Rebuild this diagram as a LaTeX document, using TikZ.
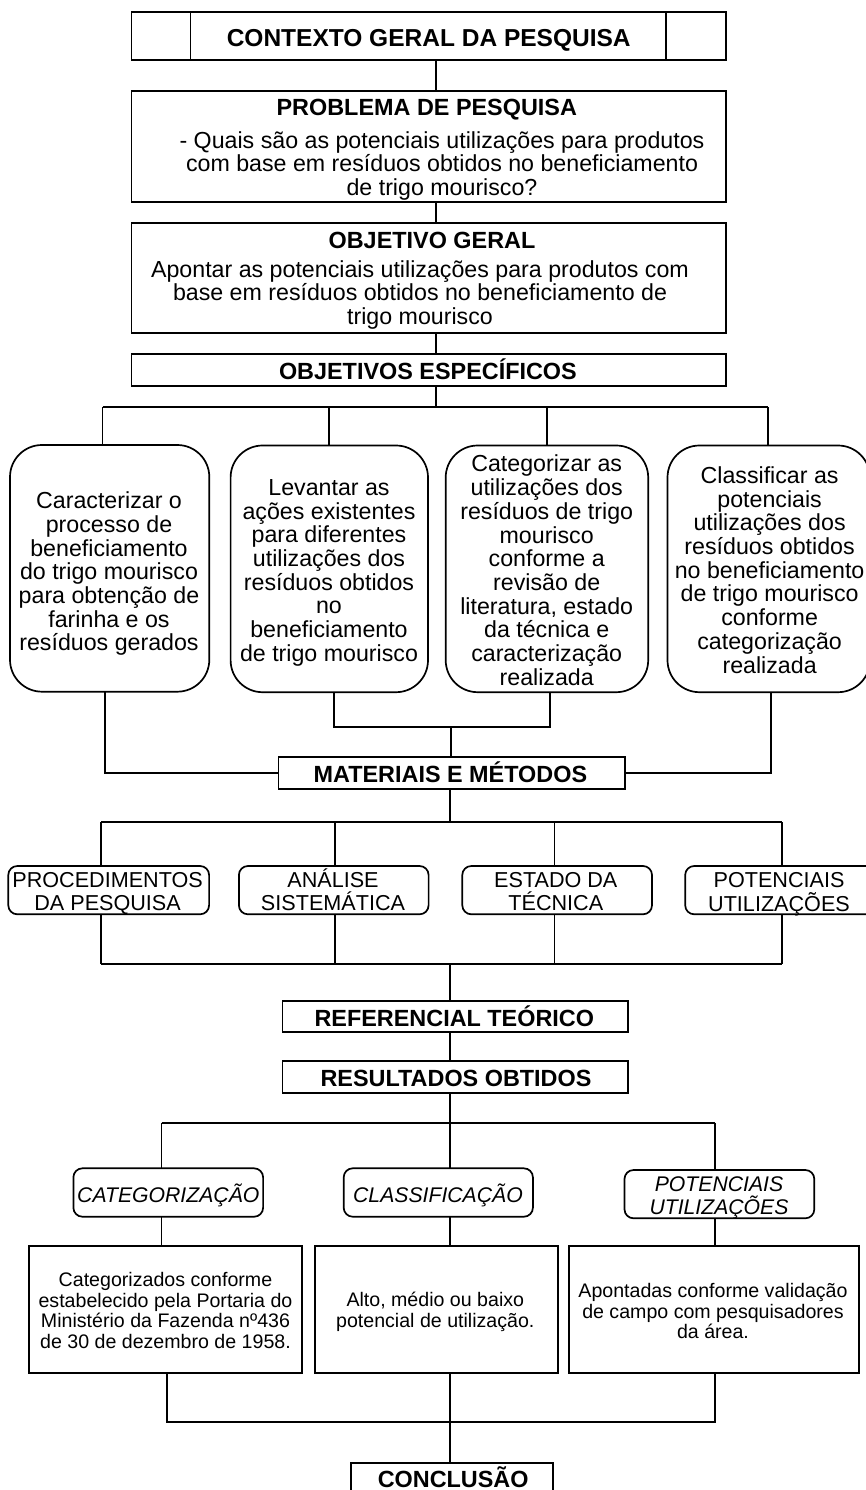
\documentclass[tikz,border=0pt]{standalone}
\usepackage{fontspec}
\setmainfont{Liberation Sans}
\begin{document}
\begin{tikzpicture}[x=1pt,y=-1pt,line width=1.7pt]
\tikzset{
  bx/.style={draw,line width=1.7pt,inner sep=0pt,outer sep=0pt},
  rbx/.style={bx,rounded corners=32pt},
  sbx/.style={bx,rounded corners=9pt},
  capht/.style={text height=#1,text depth=0pt},
  tt/.style={inner sep=0pt,align=center,capht=16.8pt,font=\fontsize{23.4}{24}\selectfont\bfseries},
  bt/.style={inner sep=0pt,align=center,font=\fontsize{23.2}{23.7}\selectfont},
  st/.style={inner sep=0pt,align=center,font=\fontsize{21.6}{23.3}\selectfont},
  itx/.style={inner sep=0pt,align=center,font=\fontsize{21.2}{22.7}\selectfont\itshape},
  qt/.style={inner sep=0pt,align=center,font=\fontsize{19.6}{20.5}\selectfont}
}
\useasboundingbox (0,0) rectangle (865,1490);
\fill[white] (0,0) rectangle (865,1490);

% x and y guide coordinates
\coordinate (sp) at (436,0);
\coordinate (d1) at (102.6,0); \coordinate (d2) at (329.3,0);
\coordinate (d3) at (547.2,0); \coordinate (d4) at (768,0);
\coordinate (u1) at (104.9,0); \coordinate (u2) at (333.8,0);
\coordinate (u3) at (550,0);   \coordinate (u4) at (771.3,0);
\coordinate (m)  at (451.3,0); \coordinate (m2) at (450,0);
\coordinate (e1) at (101,0);   \coordinate (e2) at (334.9,0);
\coordinate (e3) at (554.4,0); \coordinate (e4) at (781.7,0);
\coordinate (c1) at (161.6,0); \coordinate (c3) at (715,0);
\coordinate (k1) at (167.2,0);
\coordinate (b1) at (0,407.3); \coordinate (b2) at (0,727.3);
\coordinate (b3) at (0,822.3); \coordinate (b4) at (0,964);
\coordinate (b5) at (0,1122.7); \coordinate (b6) at (0,1421.7);

% boxes
\node[bx,minimum width=594.2pt,minimum height=47.7pt] (ctx) at (428.7,36.15) {};
\draw ([xshift=58.9pt]ctx.north west) -- ([xshift=58.9pt]ctx.south west);
\draw ([xshift=-59.7pt]ctx.north east) -- ([xshift=-59.7pt]ctx.south east);
\node[bx,minimum width=594.2pt,minimum height=111pt] (prob) at (428.7,146.5) {};
\node[bx,minimum width=594.2pt,minimum height=110.6pt] (obj) at (428.7,278) {};
\node[bx,minimum width=594.2pt,minimum height=31.7pt] (esp) at (428.7,369.85) {};

\node[rbx,minimum width=199.3pt,minimum height=246.7pt] (r1) at (109.65,568.35) {};
\node[rbx,minimum width=197.4pt,minimum height=246.7pt] (r2) at (329.3,568.85) {};
\node[rbx,minimum width=202.5pt,minimum height=246.7pt] (r3) at (546.95,568.85) {};
\node[rbx,minimum width=202.5pt,minimum height=246.7pt] (r4) at (768.75,568.85) {};

\node[bx,minimum width=346.4pt,minimum height=32.6pt] (mem) at (451.8,773) {};

\node[sbx,minimum width=200.8pt,minimum height=48.3pt] (sa) at (108.7,890.15) {};
\node[sbx,minimum width=189.7pt,minimum height=48.3pt] (sb) at (333.75,890.15) {};
\node[sbx,minimum width=189.7pt,minimum height=48.3pt] (sc) at (557.15,890.15) {};
\node[sbx,minimum width=192.8pt,minimum height=48.3pt] (sd) at (781.6,890.15) {};

\node[bx,minimum width=345.3pt,minimum height=31.6pt] (ref) at (455.15,1016.5) {};
\node[bx,minimum width=345.3pt,minimum height=32pt] (res) at (455.15,1076.7) {};

\node[sbx,minimum width=189.7pt,minimum height=48.4pt] (ic1) at (168.25,1192.5) {};
\node[sbx,minimum width=189.2pt,minimum height=48.4pt] (ic2) at (438.3,1192.5) {};
\node[sbx,minimum width=189.8pt,minimum height=48.3pt] (ic3) at (719.4,1194.15) {};

\node[bx,minimum width=273.6pt,minimum height=127pt] (q1) at (165.5,1309.2) {};
\node[bx,minimum width=242.7pt,minimum height=127pt] (q2) at (436.35,1309.2) {};
\node[bx,minimum width=290.2pt,minimum height=127pt] (q3) at (713.9,1309.2) {};

\node[bx,minimum width=202.4pt,minimum height=34.4pt] (conc) at (452.1,1480.5) {};

% texts
\node[tt,capht=17.5pt,font=\fontsize{24.5}{25}\selectfont\bfseries] (ctxT) at (428.7,37.3) {CONTEXTO GERAL DA PESQUISA};
\node[tt] (probT) at (426.8,107.5) {PROBLEMA DE PESQUISA};
\node[bt] (probB) at (442,166) {- Quais são as potenciais utilizações para produtos\\com base em resíduos obtidos no beneficiamento\\de trigo mourisco?};
\node[tt] (objT) at (432,240) {OBJETIVO GERAL};
\node[bt] (objB) at (420,294.8) {Apontar as potenciais utilizações para produtos com\\base em resíduos obtidos no beneficiamento de\\trigo mourisco};
\node[tt] (espT) at (427.9,370.7) {OBJETIVOS ESPECÍFICOS};

\node[bt] (r1T) at (109,573.8) {Caracterizar o\\processo de\\beneficiamento\\do trigo mourisco\\para obtenção de\\farinha e os\\resíduos gerados};
\node[bt] (r2T) at (329,572.8) {Levantar as\\ações existentes\\para diferentes\\utilizações dos\\resíduos obtidos\\no\\beneficiamento\\de trigo mourisco};
\node[bt] (r3T) at (546.7,570.3) {Categorizar as\\utilizações dos\\resíduos de trigo\\mourisco\\conforme a\\revisão de\\literatura, estado\\da técnica e\\caracterização\\realizada};
\node[bt] (r4T) at (769.6,570) {Classificar as\\potenciais\\utilizações dos\\resíduos obtidos\\no beneficiamento\\de trigo mourisco\\conforme\\categorização\\realizada};

\node[tt] (memT) at (450.4,774) {MATERIAIS E MÉTODOS};

\node[st] (saT) at (107.6,893.2) {PROCEDIMENTOS\\DA PESQUISA};
\node[st] (sbT) at (333,889.7) {ANÁLISE\\SISTEMÁTICA};
\node[st] (scT) at (555.8,891.7) {ESTADO DA\\TÉCNICA};
\node[st] (sdT) at (779,894.2) {POTENCIAIS\\UTILIZAÇÕES};

\node[tt] (refT) at (454.3,1018.3) {REFERENCIAL TEÓRICO};
\node[tt] (resT) at (456,1078.3) {RESULTADOS OBTIDOS};

\node[itx,capht=15.2pt] (ic1T) at (168.3,1195) {CATEGORIZAÇÃO};
\node[itx,capht=15.2pt] (ic2T) at (438,1195) {CLASSIFICAÇÃO};
\node[itx] (ic3T) at (719,1197.8) {POTENCIAIS\\UTILIZAÇÕES};

\node[qt] (q1T) at (165.5,1310.3) {Categorizados conforme\\estabelecido pela Portaria do\\Ministério da Fazenda nº436\\de 30 de dezembro de 1958.};
\node[qt] (q2T) at (435.3,1311.8) {Alto, médio ou baixo\\potencial de utilização.};
\node[qt] (q3T) at (713,1311.2) {Apontadas conforme validação\\de campo com pesquisadores\\da área.};

\node[tt,anchor=base] (concT) at (453.2,1487.5) {CONCLUSÃO};

% connectors
\draw (ctx.south -| sp) -- (prob.north -| sp);
\draw (prob.south -| sp) -- (obj.north -| sp);
\draw (obj.south -| sp) -- (esp.north -| sp);
\draw (esp.south -| sp) -- (sp |- b1);
\draw (d1 |- b1) -- (d4 |- b1);
\draw (d1 |- b1) -- (r1.north -| d1);
\draw (d2 |- b1) -- (r2.north -| d2);
\draw (d3 |- b1) -- (r3.north -| d3);
\draw (d4 |- b1) -- (r4.north -| d4);

\draw (r1.south -| u1) |- (mem.west);
\draw (r4.south -| u4) |- (mem.east);
\draw (r2.south -| u2) -- (u2 |- b2) -- (u3 |- b2) -- (r3.south -| u3);
\draw (m |- b2) -- (mem.north -| m);

\draw (mem.south -| m2) -- (m2 |- b3);
\draw (e1 |- b3) -- (e4 |- b3);
\draw (e1 |- b3) -- (sa.north -| e1);
\draw (e2 |- b3) -- (sb.north -| e2);
\draw (e3 |- b3) -- (sc.north -| e3);
\draw (e4 |- b3) -- (sd.north -| e4);
\draw (sa.south -| e1) -- (e1 |- b4);
\draw (sb.south -| e2) -- (e2 |- b4);
\draw (sc.south -| e3) -- (e3 |- b4);
\draw (sd.south -| e4) -- (e4 |- b4);
\draw (e1 |- b4) -- (e4 |- b4);
\draw (m2 |- b4) -- (ref.north -| m2);
\draw (ref.south -| m2) -- (res.north -| m2);

\draw (res.south -| m2) -- (ic2.north -| m2);
\draw (c1 |- b5) -- (c3 |- b5);
\draw (c1 |- b5) -- (ic1.north -| c1);
\draw (c3 |- b5) -- (ic3.north -| c3);
\draw (ic1.south -| c1) -- (q1.north -| c1);
\draw (ic2.south -| m2) -- (q2.north -| m2);
\draw (ic3.south -| c3) -- (q3.north -| c3);

\draw (q1.south -| k1) -- (k1 |- b6) -- (c3 |- b6) -- (q3.south -| c3);
\draw (q2.south -| m2) -- (conc.north -| m2);
\end{tikzpicture}
\end{document}
